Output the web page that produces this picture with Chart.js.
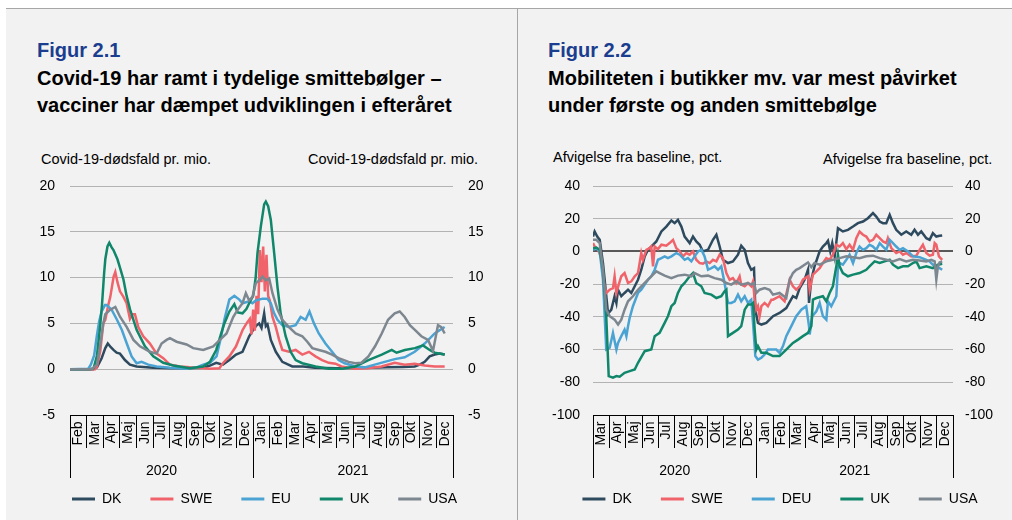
<!DOCTYPE html>
<html><head><meta charset="utf-8">
<script src="https://cdn.jsdelivr.net/npm/chart.js@4.4.1/dist/chart.umd.min.js"></script>
<style>
html,body{margin:0;padding:0;background:#fff;}
body{width:1012px;height:520px;position:relative;overflow:hidden;font-family:"Liberation Sans",Arial,sans-serif;}
#bg{position:absolute;left:6px;top:9px;right:0;bottom:0;background:#f2f2f2;}
#topline{position:absolute;left:6px;right:0;top:8px;height:1px;background:#a6a6a6;}
#divider{position:absolute;left:517px;top:9px;bottom:0;width:1px;background:#a6a6a6;}
.fig{position:absolute;font-weight:bold;font-size:20px;line-height:27px;color:#1b3d8f;white-space:nowrap;}
.title{position:absolute;font-weight:bold;font-size:20px;line-height:27px;color:#000;white-space:nowrap;}
.cap{position:absolute;font-size:14.5px;line-height:16px;color:#000;white-space:nowrap;}
canvas{position:absolute;}
</style></head>
<body>
<div id="bg"></div><div id="topline"></div><div id="divider"></div>
<div class="fig" style="left:37px;top:37px;">Figur 2.1</div>
<div class="title" style="left:37px;top:65px;">Covid-19 har ramt i tydelige smittebølger –<br>vacciner har dæmpet udviklingen i efteråret</div>
<div class="cap" style="left:41px;top:151px;">Covid-19-dødsfald pr. mio.</div>
<div class="cap" style="left:308px;top:151px;">Covid-19-dødsfald pr. mio.</div>
<div class="fig" style="left:548px;top:37px;">Figur 2.2</div>
<div class="title" style="left:548px;top:65px;">Mobiliteten i butikker mv. var mest påvirket<br>under første og anden smittebølge</div>
<div class="cap" style="left:553px;top:149px;">Afvigelse fra baseline, pct.</div>
<div class="cap" style="left:823px;top:151px;">Afvigelse fra baseline, pct.</div>
<canvas id="c1" width="511" height="346" style="left:6px;top:170px;"></canvas>
<canvas id="c2" width="494" height="346" style="left:518px;top:170px;"></canvas>
<script>
// ---------- Figure 2.1 : deaths per million (x = months since 1 Feb 2020) ----------
const months1 = ['Feb','Mar','Apr','Maj','Jun','Jul','Aug','Sep','Okt','Nov','Dec','Jan','Feb','Mar','Apr','Maj','Jun','Jul','Aug','Sep','Okt','Nov','Dec'];
const years1 = [{label:'2020',from:0,to:11},{label:'2021',from:11,to:23}];
const seriesNames1 = ['DK','SWE','EU','UK','USA'];

const dkDeaths = [[0,0],[1.4,0],[1.62,0.2],[1.9,1.2],[2.12,2.3],[2.27,2.8],[2.45,2.4],[2.61,2.1],[2.8,1.8],[3.0,1.7],[3.3,1.0],[3.6,0.5],[4.0,0.3],[5.0,0.15],[6.0,0.1],[7.0,0.1],[8.0,0.15],[8.4,0.4],[8.78,0.7],[9.18,0.5],[9.57,1.0],[9.97,1.6],[10.36,1.9],[10.76,3.6],[11.0,4.3],[11.16,4.7],[11.36,5.0],[11.5,4.5],[11.66,6.1],[11.76,4.7],[11.86,4.9],[12.06,3.2],[12.36,1.9],[12.75,0.8],[13.35,0.3],[14.0,0.3],[14.7,0.15],[16,0.1],[18,0.15],[19,0.2],[20,0.25],[20.7,0.3],[21.0,0.5],[21.3,0.8],[21.6,1.4],[21.9,1.6],[22.2,1.7],[22.5,1.6]];
const sweDeaths = [[0,0],[1.5,0],[1.62,0.3],[1.82,2],[2.0,5],[2.12,5.4],[2.3,7],[2.42,7.9],[2.62,10.1],[2.72,10.6],[2.85,9.5],[3.0,8.5],[3.21,7.9],[3.4,7.2],[3.6,5.5],[3.75,6.0],[3.9,6.0],[4.1,4.6],[4.4,3.6],[4.8,2.8],[5.2,1.7],[5.6,1.2],[6.0,0.5],[6.6,0.3],[7.2,0.2],[8.0,0.1],[8.4,0.05],[8.97,0.1],[9.18,0.65],[9.57,1.4],[9.97,2.5],[10.37,4.3],[10.6,5.0],[10.8,5.5],[10.9,3.8],[11.0,6.5],[11.1,4.2],[11.2,8.0],[11.3,6.0],[11.4,13.0],[11.5,9.5],[11.6,13.4],[11.7,8.5],[11.8,12.5],[11.9,8.0],[12.0,7.5],[12.16,5.7],[12.36,4.6],[12.56,3.2],[12.75,2.1],[13.15,1.9],[13.55,2.1],[13.95,1.6],[14.35,1.9],[14.74,1.4],[15.14,1.0],[15.54,0.7],[15.94,0.6],[16.3,0.3],[17.1,0.05],[17.9,0.1],[18.7,0.3],[19.5,0.7],[20.1,0.5],[20.7,0.6],[21.3,0.4],[21.9,0.3],[22.5,0.3]];
const euDeaths = [[0,0],[1.1,0.05],[1.25,0.5],[1.45,1.5],[1.6,3.5],[1.75,5.2],[1.9,6.3],[2.1,7.0],[2.2,7.0],[2.5,6.5],[2.82,5.4],[3.11,4.3],[3.41,2.8],[3.7,1.4],[4.0,0.65],[4.3,0.8],[4.7,0.5],[5.2,0.3],[6.0,0.15],[7.0,0.05],[7.6,0.2],[8.0,0.5],[8.4,0.7],[8.8,1.4],[9.08,3.6],[9.27,5.4],[9.57,7.6],[9.87,8.0],[10.17,7.6],[10.36,7.2],[10.76,7.4],[10.96,7.2],[11.16,7.5],[11.56,7.7],[11.85,7.7],[12.06,7.2],[12.26,6.1],[12.46,5.4],[12.75,4.8],[13.15,4.6],[13.55,4.8],[13.85,5.7],[14.15,5.4],[14.38,6.3],[14.65,5.0],[14.94,3.9],[15.34,2.8],[15.74,1.9],[16.13,1.0],[16.5,0.65],[17.13,0.3],[17.7,0.2],[18.3,0.5],[18.9,0.8],[19.5,1.1],[20.1,1.3],[20.7,1.9],[21.3,2.8],[21.9,3.9],[22.5,4.6]];
const ukDeaths = [[0,0],[1.2,0],[1.42,0.1],[1.62,1.5],[1.8,4.5],[1.92,7],[2.05,10.5],[2.12,12],[2.25,13.4],[2.36,13.8],[2.5,13.3],[2.61,13],[2.85,12],[3.05,10.8],[3.21,9.8],[3.4,8],[3.61,6.5],[4.0,4.3],[4.5,2.5],[5.0,1.4],[5.6,0.7],[6.2,0.4],[7.2,0.1],[8.0,0.3],[8.4,0.8],[8.78,2.1],[9.08,3.9],[9.27,5.0],[9.57,6.3],[9.87,7.1],[10.07,6.2],[10.36,6.1],[10.6,6.6],[10.76,7.2],[11.0,8.0],[11.15,10],[11.26,12.7],[11.46,15.6],[11.66,18.0],[11.76,18.3],[11.9,17.8],[12.06,16.3],[12.26,12.7],[12.46,9],[12.65,6.1],[12.95,3.6],[13.25,1.9],[13.55,1.0],[13.95,0.65],[14.75,0.3],[15.54,0.05],[16.33,0.05],[17.13,0.3],[17.92,1.0],[18.72,1.6],[19.32,2.1],[19.61,1.8],[20.11,2.1],[20.71,2.3],[21.2,2.6],[21.6,2.1],[21.9,1.8],[22.5,1.6]];
const usaDeaths = [[0,0],[1.3,0],[1.62,0.5],[1.8,2.5],[2.0,5.0],[2.12,6.0],[2.42,6.5],[2.72,6.8],[3.01,5.7],[3.41,4.6],[3.81,3.2],[4.2,2.5],[4.8,1.9],[5.2,1.7],[5.5,2.8],[5.8,3.2],[6.0,3.4],[6.4,3.0],[7.0,2.7],[7.4,2.3],[8.0,2.1],[8.6,2.5],[9.0,3.2],[9.4,3.9],[9.8,5.7],[10.07,6.5],[10.36,7.2],[10.56,8.3],[10.76,7.5],[10.96,7.9],[11.16,9.4],[11.36,9.7],[11.56,10.1],[11.76,9.7],[11.96,9.9],[12.16,8.3],[12.46,6.5],[12.75,5.4],[13.15,4.6],[13.55,3.9],[13.95,3.6],[14.25,3.0],[14.55,2.3],[14.94,2.1],[15.34,1.9],[15.74,1.6],[16.13,1.2],[16.73,0.8],[17.13,0.65],[17.5,0.7],[17.92,1.4],[18.32,2.5],[18.72,3.9],[19.1,5.4],[19.5,6.1],[19.8,6.3],[20.1,5.7],[20.41,4.8],[20.71,4.3],[21.1,3.6],[21.5,3.2],[21.8,2.0],[22.0,3.9],[22.1,4.8],[22.3,4.6],[22.5,3.9]];
const yTicks1 = {min:-5, max:20, step:5};

// ---------- Figure 2.2 : retail mobility (x = months since 1 Mar 2020) ----------
const months2 = ['Mar','Apr','Maj','Jun','Jul','Aug','Sep','Okt','Nov','Dec','Jan','Feb','Mar','Apr','Maj','Jun','Jul','Aug','Sep','Okt','Nov','Dec'];
const years2 = [{label:'2020',from:0,to:10},{label:'2021',from:10,to:22}];
const seriesNames2 = ['DK','SWE','DEU','UK','USA'];

const dkMob = [[0,9.1],[0.1,12.2],[0.26,9.1],[0.41,7.1],[0.61,-7.1],[0.92,-38],[1.12,-35.6],[1.32,-27.4],[1.43,-31.5],[1.53,-23.4],[1.73,-27.4],[1.93,-25.4],[2.14,-23.4],[2.34,-25.4],[2.55,-21.3],[2.75,-17.3],[2.95,-11.2],[3.16,-3.0],[3.36,1.0],[3.56,3.0],[3.87,6.1],[4.18,12.2],[4.48,15.2],[4.79,18.9],[4.99,17.3],[5.19,19.3],[5.4,15.2],[5.6,9.1],[5.91,5.1],[6.11,9.1],[6.31,6.1],[6.52,4.1],[6.72,0],[7.03,1.0],[7.33,7.1],[7.54,10.2],[7.74,3.0],[7.94,-5.1],[8.25,-7.1],[8.55,-6.1],[8.86,-2.0],[9.06,3.5],[9.27,1.0],[9.47,-7.1],[9.67,-11.2],[9.84,-10.2],[9.92,-35.6],[10.08,-43.7],[10.29,-44.7],[10.59,-43.7],[10.9,-40.7],[11.0,-39.6],[11.4,-37.6],[11.81,-34.6],[12.22,-27.4],[12.42,-28.5],[12.63,-22.4],[12.93,-17.3],[13.14,-11.2],[13.2,-31.5],[13.34,-17.3],[13.54,-9.1],[13.85,0],[14.05,3.0],[14.26,5.1],[14.36,6.5],[14.5,0],[14.62,5.1],[14.77,-3.0],[14.97,14.2],[15.27,12.2],[15.58,13.2],[15.89,15.2],[16.19,17.3],[16.5,18.3],[16.8,20.3],[17.11,23.4],[17.31,21.3],[17.52,18.3],[17.72,17.3],[17.92,17.3],[18.13,22.4],[18.33,17.3],[18.53,13.2],[18.84,10.2],[19.14,12.2],[19.45,10.2],[19.65,13.2],[19.86,10.2],[20.06,12.2],[20.37,8.1],[20.57,7.1],[20.77,11.2],[20.98,9.1],[21.18,9.6],[21.34,9.8]];
const sweMob = [[0,5.1],[0.1,3.0],[0.31,1.0],[0.47,-3.0],[0.67,-19.3],[0.81,-25.4],[1.02,-23.4],[1.22,-22.4],[1.32,-15.2],[1.43,-25.4],[1.57,-20.3],[1.73,-15.2],[1.93,-13.2],[2.14,-19.3],[2.34,-18.3],[2.55,-15.2],[2.75,-13.2],[2.95,-1.0],[3.05,-5.1],[3.16,-2.0],[3.26,1.0],[3.46,2.0],[3.56,3.0],[3.67,-9.1],[3.77,3.0],[3.97,1.4],[4.18,4.1],[4.48,3.5],[4.68,5.1],[4.89,7.1],[5.09,2.0],[5.3,0],[5.5,-3.0],[5.7,-1.0],[5.91,-2.0],[6.11,0],[6.31,-5.1],[6.52,-7.1],[6.72,-7.5],[6.92,-6.1],[7.13,-7.1],[7.33,-5.1],[7.54,-6.1],[7.74,-2.0],[7.94,-4.1],[8.15,-13.2],[8.35,-17.3],[8.55,-16.3],[8.76,-19.3],[8.96,-15.2],[9.06,-20.3],[9.27,-21.3],[9.47,-19.3],[9.67,-21.3],[9.78,-18.3],[9.88,-29.5],[9.98,-35.6],[10.08,-33.5],[10.18,-39.6],[10.29,-33.5],[10.49,-31.5],[10.69,-33.5],[10.9,-29.5],[11.0,-29.5],[11.4,-27.4],[11.71,-30.5],[12.02,-17.3],[12.22,-21.3],[12.42,-23.4],[12.63,-21.3],[12.83,-17.3],[13.14,-15.2],[13.24,-23.4],[13.44,-14.2],[13.65,-12.2],[13.85,-10.2],[14.05,-7.1],[14.26,-4.1],[14.46,-5.1],[14.66,-2.0],[14.87,4.1],[15.07,3.0],[15.27,5.1],[15.48,1.4],[15.68,4.1],[15.89,1.0],[16.09,8.1],[16.29,12.2],[16.5,10.2],[16.7,9.1],[16.9,6.1],[17.11,7.1],[17.31,10.2],[17.52,8.1],[17.72,6.1],[17.92,5.1],[18.02,8.1],[18.23,2.0],[18.53,-1.0],[18.74,0],[18.94,-2.0],[19.14,-1.0],[19.45,-3.0],[19.76,-2.6],[19.96,1.0],[20.16,4.1],[20.37,-1.0],[20.57,-2.6],[20.77,-2.0],[20.88,5.1],[20.98,4.1],[21.14,-3.0],[21.34,-5.1]];
const deuMob = [[0,1.0],[0.2,2.0],[0.41,0],[0.61,-17.3],[0.81,-60],[1.02,-58.9],[1.22,-49.8],[1.43,-60],[1.53,-55.9],[1.73,-51.8],[1.93,-47.8],[2.04,-51.8],[2.14,-45.7],[2.24,-40.7],[2.44,-33.5],[2.75,-25.4],[2.95,-23.4],[3.16,-20.3],[3.36,-17.3],[3.56,-15.2],[3.77,-11.2],[3.97,-5.1],[4.18,-4.1],[4.38,-3.0],[4.58,-4.1],[4.79,-3.0],[5.09,-1.0],[5.3,-2.0],[5.6,-5.1],[5.8,-4.1],[6.01,-6.1],[6.21,-3.0],[6.42,0],[6.62,1.0],[6.82,-3.0],[7.03,-11.2],[7.23,-10.2],[7.43,-9.1],[7.64,-11.2],[7.84,-9.1],[8.04,-19.3],[8.25,-31.5],[8.45,-31.5],[8.66,-30.5],[8.86,-26.4],[9.06,-30.5],[9.27,-27.4],[9.47,-31.5],[9.67,-29.5],[9.78,-43.7],[9.92,-64],[10.08,-66.1],[10.29,-65],[10.49,-63],[10.69,-60],[11.2,-60],[11.4,-62],[11.61,-57.9],[11.81,-51.8],[12.12,-45.7],[12.42,-39.6],[12.73,-35.6],[13.03,-33.5],[13.2,-45.7],[13.24,-50.8],[13.4,-39.6],[13.65,-36.6],[13.85,-31.5],[14.05,-39.6],[14.26,-41.7],[14.36,-30.5],[14.56,-33.5],[14.87,-27.4],[14.97,-9.1],[15.07,-7.1],[15.27,-8.1],[15.48,-5.1],[15.68,-2.0],[15.89,-7.1],[16.09,-1.0],[16.29,3.0],[16.5,1.0],[16.7,2.0],[16.9,4.1],[17.11,3.0],[17.31,1.0],[17.52,5.1],[17.72,3.0],[17.92,1.0],[18.13,7.1],[18.33,5.1],[18.53,3.0],[18.74,1.0],[18.94,2.0],[19.25,0],[19.55,-3.0],[19.96,-3.5],[20.37,-5.1],[20.57,-6.1],[20.77,-8.1],[20.98,-9.1],[21.18,-10.2],[21.34,-11.2]];
const ukMob = [[0,2.0],[0.2,2.4],[0.41,1.0],[0.61,-11.2],[0.81,-39.6],[0.96,-76.2],[1.22,-77.2],[1.43,-76.2],[1.63,-76.6],[1.93,-74.2],[2.24,-73.2],[2.55,-72.2],[2.75,-68.1],[3.16,-61.0],[3.56,-60.0],[3.77,-51.8],[4.07,-49.8],[4.38,-43.7],[4.58,-39.6],[4.79,-33.5],[4.99,-31.5],[5.19,-25.4],[5.4,-21.3],[5.6,-19.3],[5.91,-15.2],[6.11,-13.2],[6.31,-19.3],[6.62,-21.3],[6.82,-25.4],[7.23,-26.4],[7.54,-28.5],[7.84,-27.4],[8.04,-24.4],[8.15,-23.4],[8.25,-51.8],[8.55,-49.8],[8.86,-47.8],[9.06,-45.7],[9.27,-35.6],[9.47,-32.5],[9.67,-32.5],[9.78,-31.5],[9.88,-47.8],[9.98,-60],[10.08,-57.9],[10.29,-62],[10.59,-62],[11.0,-64],[11.4,-64],[11.81,-60],[12.02,-57.9],[12.22,-55.9],[12.53,-53.9],[12.83,-51.8],[13.14,-49.8],[13.34,-45.7],[13.44,-29.5],[13.65,-28.5],[14.05,-27.4],[14.26,-30.5],[14.46,-25.4],[14.66,-21.3],[14.87,-9.1],[14.97,-2.0],[15.07,-9.1],[15.27,-13.2],[15.58,-15.2],[15.89,-14.2],[16.29,-13.2],[16.7,-11.2],[16.9,-9.1],[17.21,-6.1],[17.52,-7.1],[17.82,-6.1],[18.13,-5.1],[18.33,-8.1],[18.64,-10.2],[18.94,-9.1],[19.25,-9.1],[19.55,-7.1],[19.76,-6.1],[19.96,-10.2],[20.37,-9.1],[20.77,-10.2],[21.08,-8.1],[21.34,-7.5]];
const usaMob = [[0,7.1],[0.2,7.1],[0.41,5.1],[0.61,-11.2],[0.81,-35.6],[1.02,-39.6],[1.32,-41.7],[1.53,-44.7],[1.73,-41.7],[1.93,-35.6],[2.14,-30.5],[2.44,-27.4],[2.75,-23.4],[3.16,-19.3],[3.56,-15.2],[3.87,-12.2],[4.07,-13.2],[4.38,-14.8],[4.79,-16.3],[5.19,-14.8],[5.6,-14.2],[6.01,-15.2],[6.21,-13.2],[6.62,-15.2],[7.03,-14.8],[7.43,-16.3],[7.84,-17.3],[8.15,-19.3],[8.45,-20.3],[8.76,-18.3],[9.06,-20.3],[9.47,-19.3],[9.67,-20.3],[9.84,-19.3],[9.98,-25.4],[10.18,-23.4],[10.49,-22.4],[10.79,-23.4],[11.0,-26.4],[11.4,-25.4],[11.81,-28.5],[12.02,-17.3],[12.22,-13.2],[12.42,-11.2],[12.63,-10.2],[12.93,-8.1],[13.14,-6.7],[13.34,-9.6],[13.54,-7.1],[13.85,-8.1],[14.26,-6.1],[14.66,-5.1],[15.07,-4.1],[15.48,-3.0],[15.89,-3.5],[16.29,-4.1],[16.7,-3.0],[17.11,-2.6],[17.52,-4.1],[17.92,-5.1],[18.33,-6.1],[18.74,-4.7],[19.14,-6.1],[19.55,-5.1],[19.96,-5.5],[20.37,-6.1],[20.67,-5.1],[20.88,-6.1],[20.98,-17.3],[21.08,-9.1],[21.18,-6.7],[21.34,-6.1]];
const yTicks2 = {min:-100, max:40, step:20};

const seriesColors = ['#2e4a5e','#f0636a','#4aa3d3','#10876a','#7d8790'];

// ---------- chart builder ----------
const FONT = '"Liberation Sans", Arial, sans-serif';
Chart.defaults.font.family = FONT;
Chart.defaults.font.size = 14;
Chart.defaults.color = '#000';
const CLEAR = 'rgba(0,0,0,0)';

function monthAxis(months){
  const n = months.length;
  const isBound = ctx => ctx.tick && Number.isInteger(ctx.tick.value);
  return {
    type:'linear', position:'bottom', min:0, max:n, weight:0,
    afterBuildTicks: s => { const t=[]; for(let i=0;i<=2*n;i++) t.push({value:i/2}); s.ticks=t; },
    afterFit: s => { s.height = 33; },
    grid:{drawOnChartArea:false, drawTicks:true, tickLength:33, lineWidth:1,
      color: ctx => isBound(ctx) ? '#000' : CLEAR,
      tickColor: ctx => isBound(ctx) ? '#000' : CLEAR},
    border:{display:true, color:'#000', width:1},
    ticks:{autoSkip:false, minRotation:90, maxRotation:90, padding:-26.5, color:'#000', font:{size:14},
      callback: v => Number.isInteger(v) ? '' : months[Math.floor(v)]}
  };
}
function yearAxis(years, n){
  const bounds = [0, ...years.map(y=>y.to)];
  const centers = years.map(y=>(y.from+y.to)/2);
  const isBound = ctx => ctx.tick && bounds.includes(ctx.tick.value);
  return {
    type:'linear', position:'bottom', min:0, max:n, weight:1,
    afterBuildTicks: s => { s.ticks = [...bounds, ...centers].sort((a,b)=>a-b).map(v=>({value:v})); },
    afterFit: s => { s.height = 15; },
    grid:{drawOnChartArea:false, drawTicks:true, tickLength:30, lineWidth:1,
      color: ctx => isBound(ctx) ? '#000' : CLEAR,
      tickColor: ctx => isBound(ctx) ? '#000' : CLEAR},
    border:{display:false},
    ticks:{autoSkip:false, minRotation:0, maxRotation:0, mirror:true, padding:-32, color:'#000', font:{size:14},
      callback: v => { const y = years.find(o => (o.from+o.to)/2 === v); return y ? y.label : ''; }}
  };
}
function makeChart(id, names, seriesList, months, years, yt, opt){
  const n = months.length;
  const datasets = seriesList.map((s,i)=>({
    label:names[i], data:s.map(p=>({x:p[0], y:p[1]})),
    borderColor:seriesColors[i], backgroundColor:seriesColors[i],
    borderWidth:2.5, pointRadius:0, tension:0, order:5-i, xAxisID:'x', yAxisID:'y'
  }));
  return new Chart(document.getElementById(id), {
    type:'line',
    data:{datasets},
    options:{
      responsive:false, animation:false, devicePixelRatio:1,
      layout:{autoPadding:false, padding:{top:16, left:opt.padLeft, right:0, bottom:0}},
      scales:{
        x: monthAxis(months),
        x2: yearAxis(years, n),
        y:{position:'left', min:yt.min, max:yt.max,
          ticks:{stepSize:yt.step, padding:0, color:'#000', font:{size:14}},
          grid:{drawTicks:true, tickLength:opt.lp, tickColor:CLEAR,
            color: ctx => ctx.tick.value === yt.min ? CLEAR : (opt.zeroLine && ctx.tick.value === 0 ? '#595959' : '#b3b3b3'),
            lineWidth: ctx => (opt.zeroLine && ctx.tick.value === 0) ? 2 : 1},
          border:{display:false},
          afterFit: s => { s.width = opt.lw; }},
        yR:{position:'right', min:yt.min, max:yt.max,
          ticks:{stepSize:yt.step, padding:0, color:'#000', font:{size:14}},
          grid:{drawOnChartArea:false, drawTicks:true, tickLength:opt.rp, tickColor:CLEAR, color:CLEAR}, border:{display:false},
          afterFit: s => { s.width = opt.rw; }}
      },
      plugins:{
        tooltip:{enabled:false},
        legend:{position:'bottom', align:'center',
          labels:{boxWidth:23, boxHeight:3, padding:29, color:'#000', font:{size:14},
            sort:(a,b)=>a.datasetIndex-b.datasetIndex,
            generateLabels: c => Chart.defaults.plugins.legend.labels.generateLabels(c).map(l => Object.assign(l, {fillStyle:l.strokeStyle, lineWidth:0}))}}
      }
    }
  });
}
makeChart('c1', seriesNames1, [dkDeaths, sweDeaths, euDeaths, ukDeaths, usaDeaths], months1, years1, yTicks1,
  {padLeft:6, lw:58, rw:64, lp:15, rp:15, zeroLine:false});
makeChart('c2', seriesNames2, [dkMob, sweMob, deuMob, ukMob, usaMob], months2, years2, yTicks2,
  {padLeft:30, lw:45, rw:59, lp:13, rp:12, zeroLine:true});
</script>
</body></html>
